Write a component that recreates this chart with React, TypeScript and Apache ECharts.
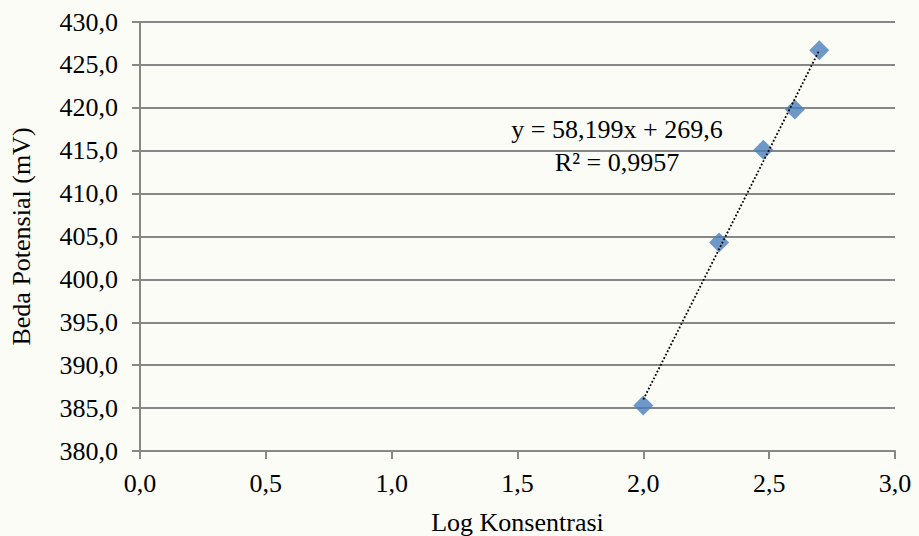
import React, { useEffect, useRef } from "react";
import * as echarts from "echarts";

const logKonsentrasi = [2.0, 2.301, 2.477, 2.602, 2.699];
const bedaPotensial = [385.3, 404.3, 415.1, 419.8, 426.7];
const trendX = [2.0, 2.699];
const trendY = [386.0, 426.7];
const equationLines = ["y = 58,199x + 269,6", "R² = 0,9957"];
const xTitle = "Log Konsentrasi";
const yTitle = "Beda Potensial (mV)";

const FONT = "Liberation Serif";
const FS = 26;
const fmt1 = (v: number) => v.toFixed(1).replace(".", ",");

export default function App() {
  const ref = useRef<HTMLDivElement>(null);
  useEffect(() => {
    document.body.style.margin = "0";
    const chart = echarts.init(ref.current!, undefined, { renderer: "svg" });
    const lineCol = "#878787";
    const axisLine = { show: true, lineStyle: { color: lineCol, width: 2 } };
    chart.setOption({
      animation: false,
      backgroundColor: "#fcfcf7",
      grid: { left: 140, right: 24, top: 22, bottom: 85, containLabel: false, outerBoundsMode: "none" },
      xAxis: {
        type: "value",
        min: 0,
        max: 3,
        interval: 0.5,
        name: xTitle,
        nameLocation: "middle",
        nameGap: 58,
        nameTextStyle: { fontFamily: FONT, fontSize: FS, color: "#000" },
        axisLine,
        axisTick: { show: true, length: 8, lineStyle: { color: lineCol, width: 2 } },
        axisLabel: { fontFamily: FONT, fontSize: FS, color: "#000", margin: 19, formatter: fmt1 },
        splitLine: { show: false },
      },
      yAxis: {
        type: "value",
        min: 380,
        max: 430,
        interval: 5,
        name: yTitle,
        nameLocation: "middle",
        nameGap: 106,
        nameRotate: 90,
        nameTextStyle: { fontFamily: FONT, fontSize: FS, color: "#000" },
        axisLine,
        axisTick: { show: true, length: 8, lineStyle: { color: lineCol, width: 2 } },
        axisLabel: { fontFamily: FONT, fontSize: FS, color: "#000", margin: 22, formatter: fmt1 },
        splitLine: { show: true, lineStyle: { color: lineCol, width: 2 } },
      },
      series: [
        {
          type: "line",
          data: trendX.map((x, i) => [x, trendY[i]]),
          symbol: "none",
          lineStyle: { color: "#000", width: 1.8, type: [1.8, 2] },
          z: 3,
        },
        {
          type: "scatter",
          data: logKonsentrasi.map((x, i) => [x, bedaPotensial[i]]),
          symbol: "diamond",
          symbolSize: 20,
          itemStyle: { color: "#4a7ebb" },
          z: 2,
        },
      ],
      graphic: equationLines.map((t, i) => ({
        type: "text",
        x: 617,
        y: 129 + i * 33,
        style: {
          text: t,
          fontFamily: FONT,
          fontSize: FS,
          fill: "#000",
          align: "center",
          verticalAlign: "middle",
        },
      })),
    });
    return () => chart.dispose();
  }, []);
  return <div ref={ref} style={{ width: 919, height: 536, position: "fixed", left: 0, top: 0 }} />;
}
